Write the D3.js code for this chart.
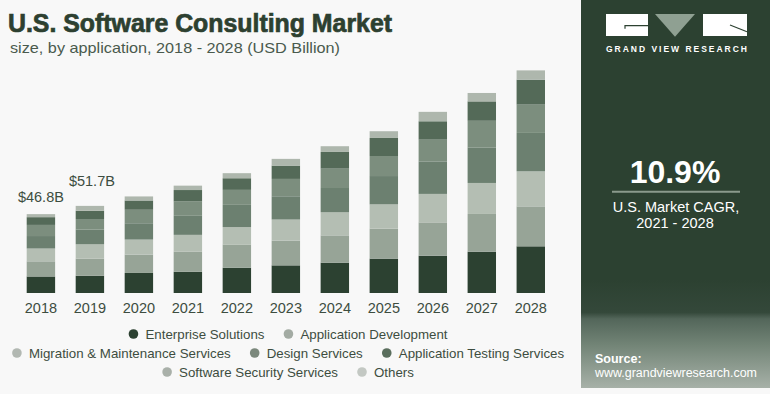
<!DOCTYPE html>
<html><head><meta charset="utf-8">
<script src="https://cdn.jsdelivr.net/npm/d3@7"></script>
<style>body{margin:0;background:#f8f8f8;}svg{display:block;}</style>
</head><body>
<svg id="chart" width="770" height="394"></svg>
<script>
const years = ["2018","2019","2020","2021","2022","2023","2024","2025","2026","2027","2028"];
const seriesNames = ["Enterprise Solutions","Application Development","Migration & Maintenance Services","Design Services","Application Testing Services","Software Security Services","Others"];
const enterprise   = [9.8,10.2,11.9,12.6,15.0,16.4,18.0,20.4,22.1,24.5,27.7];
const appDev       = [9.0,10.2,10.9,12.0,13.8,14.7,16.2,17.8,19.8,22.4,23.7];
const migration    = [7.6,8.5,8.9,9.9,10.3,12.5,13.7,14.4,16.9,18.4,20.8];
const design       = [7.4,8.8,9.7,11.3,13.2,13.8,14.4,16.8,19.3,21.1,22.8];
const appTesting   = [6.6,6.2,8.0,8.5,8.9,10.3,11.5,11.9,12.9,15.8,16.8];
const softSecurity = [4.6,4.9,5.5,6.8,6.9,7.9,9.9,10.7,10.9,11.5,14.8];
const others       = [1.8,2.9,2.4,2.6,3.0,4.0,3.4,4.0,5.6,5.0,5.5];
const valueLabels  = ["$46.8B","$51.7B"];
const barColors    = ["#2c4131","#97a497","#b4beb3","#6c8070","#7c8e7e","#546a58","#aeb7ad"];
const legendColors = ["#2c4131","#a3aba3","#b2b8b2","#7b887c","#5a6e5d","#a9b0a9","#c3c8c3"];

const seriesValues = [enterprise, appDev, migration, design, appTesting, softSecurity, others];
const keys = seriesNames;
const table = years.map((yr, i) => {
  const row = {year: yr};
  keys.forEach((k, j) => row[k] = seriesValues[j][i]);
  return row;
});

const svg = d3.select("#chart");
const textColor = "#3d4d40";
const font = "'Liberation Sans', Arial, sans-serif";

svg.append("rect").attr("width",770).attr("height",394).attr("fill","#f8f8f8");

// Title
svg.append("text").attr("x",8).attr("y",32).text("U.S. Software Consulting Market")
  .attr("font-family",font).attr("font-weight","bold").attr("font-size",25)
  .attr("fill","#2d4030").attr("stroke","#2d4030").attr("stroke-width",0.7)
  .attr("textLength",384).attr("lengthAdjust","spacingAndGlyphs");
svg.append("text").attr("x",10).attr("y",52.5).text("size, by application, 2018 - 2028 (USD Billion)")
  .attr("font-family",font).attr("font-size",14.5).attr("fill","#4a5a4d")
  .attr("textLength",330).attr("lengthAdjust","spacingAndGlyphs");

// Scales
const x = d3.scaleBand().domain(years).range([26.7,545]).paddingInner(0.42).paddingOuter(0);
const y = d3.scaleLinear().domain([0,135]).range([293,65.5]);

const stack = d3.stack().keys(keys)(table);
svg.append("g").selectAll("g").data(stack).join("g")
  .attr("fill",(d,i)=>barColors[i])
  .selectAll("rect").data(d=>d).join("rect")
  .attr("x",d=>x(d.data.year)).attr("width",x.bandwidth())
  .attr("y",d=>y(d[1])).attr("height",d=>y(d[0])-y(d[1]));

// Value labels
const labelOffsets = [12,20];
valueLabels.forEach((lab,i)=>{
  const total = d3.sum(seriesValues, s=>s[i]);
  svg.append("text").attr("x",x(years[i])+x.bandwidth()/2+(i===1?2:0)).attr("y",y(total)-labelOffsets[i])
    .attr("text-anchor","middle").attr("font-family",font).attr("font-size",14.5)
    .attr("fill",textColor).text(lab);
});

// X axis
const xAxis = svg.append("g").attr("transform","translate(0,293)")
  .call(d3.axisBottom(x).tickSize(0).tickPadding(6));
xAxis.select(".domain").remove();
xAxis.selectAll("text").attr("font-family",font).attr("font-size",14.5).attr("fill",textColor).attr("dy","0.95em");

// Legend
const rows = [[0,1],[2,3,4],[5,6]];
const rowY = [334,353,372];
const legendCenter = 288;
rows.forEach((row,ri)=>{
  const g = svg.append("g");
  let cx = 0;
  row.forEach((si,k)=>{
    g.append("circle").attr("cx",cx+5).attr("cy",rowY[ri]).attr("r",4.8).attr("fill",legendColors[si]);
    const t = g.append("text").attr("x",cx+17).attr("y",rowY[ri]+4.8).text(seriesNames[si])
      .attr("font-family",font).attr("font-size",13.3).attr("fill",textColor);
    const w = t.node().getComputedTextLength();
    cx += 17 + w + (k<row.length-1?19:0);
  });
  g.attr("transform",`translate(${legendCenter - cx/2},0)`);
});

// Right panel
const defs = svg.append("defs");
const grad = defs.append("linearGradient").attr("id","pg").attr("x1",0).attr("y1",0).attr("x2",0).attr("y2",1);
[[0,"#2c4131"],[0.3,"#34483a"],[0.36,"#53665a"],[0.6,"#728476"],[1,"#a7b1a8"]].forEach(s=>grad.append("stop").attr("offset",s[0]).attr("stop-color",s[1]));
svg.append("rect").attr("x",581).attr("y",0).attr("width",189).attr("height",388).attr("fill","#2c4131");
svg.append("rect").attr("x",581).attr("y",280).attr("width",189).attr("height",108).attr("fill","url(#pg)");

// Logo
svg.append("rect").attr("x",606).attr("y",14).attr("width",42).attr("height",22).attr("fill","#ffffff");
svg.append("path").attr("d","M625,28.7 V25.7 H648").attr("stroke","#2c4131").attr("stroke-width",1.2).attr("fill","none");
svg.append("path").attr("d","M655,14 L695,14 L675,36.7 Z").attr("fill","#8fa092");
svg.append("rect").attr("x",703).attr("y",14).attr("width",44).attr("height",22).attr("fill","#ffffff");
svg.append("path").attr("d","M730,25 L747,31.7").attr("stroke","#2c4131").attr("stroke-width",1.2);
svg.append("text").attr("x",606).attr("y",51.7).text("GRAND VIEW RESEARCH")
  .attr("font-family",font).attr("font-weight","bold").attr("font-size",8.5).attr("fill","#ffffff")
  .attr("textLength",141).attr("lengthAdjust","spacing");

// CAGR
svg.append("text").attr("x",675).attr("y",183.3).attr("text-anchor","middle").text("10.9%")
  .attr("font-family",font).attr("font-weight","bold").attr("font-size",32).attr("fill","#ffffff");
svg.append("line").attr("x1",612).attr("x2",740).attr("y1",191.7).attr("y2",191.7).attr("stroke","#8a9a8c").attr("stroke-width",2);
svg.append("text").attr("x",676).attr("y",211.5).attr("text-anchor","middle").text("U.S. Market CAGR,")
  .attr("font-family",font).attr("font-size",14.5).attr("fill","#ffffff");
svg.append("text").attr("x",675).attr("y",228).attr("text-anchor","middle").text("2021 - 2028")
  .attr("font-family",font).attr("font-size",14.5).attr("fill","#ffffff");

// Source
svg.append("text").attr("x",595).attr("y",362.7).text("Source:")
  .attr("font-family",font).attr("font-weight","bold").attr("font-size",12.5).attr("fill","#ffffff");
svg.append("text").attr("x",595).attr("y",376.7).text("www.grandviewresearch.com")
  .attr("font-family",font).attr("font-size",12.5).attr("fill","#ffffff")
  .attr("textLength",162).attr("lengthAdjust","spacingAndGlyphs");
</script>
</body></html>
